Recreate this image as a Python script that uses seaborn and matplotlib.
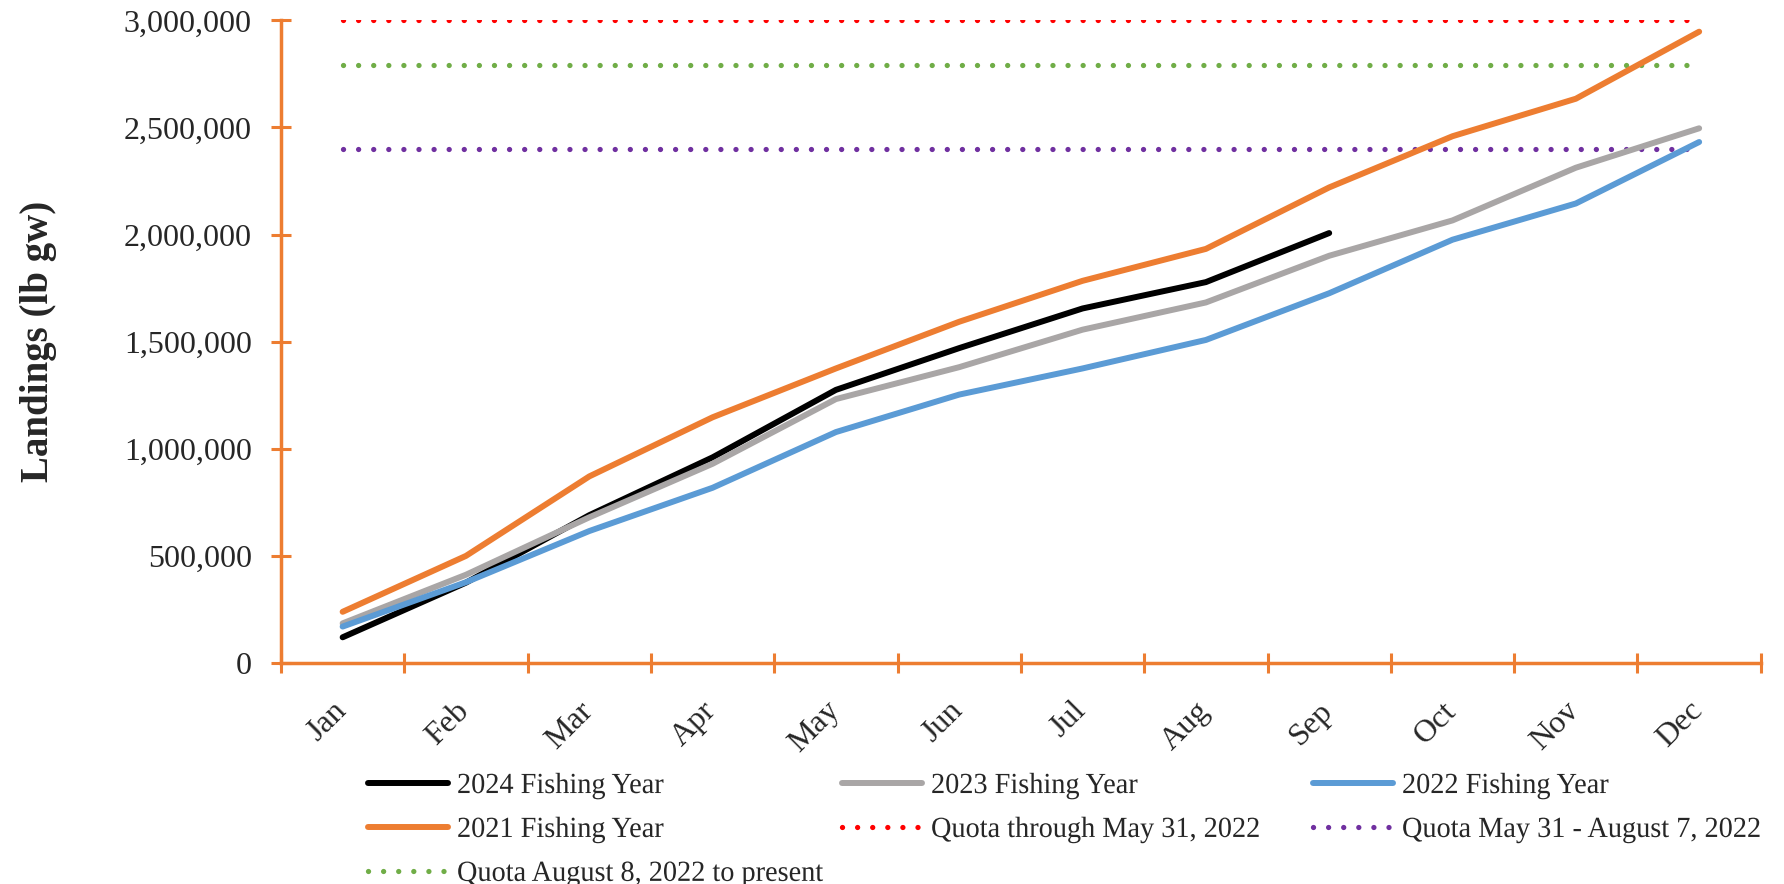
import numpy as np
import pandas as pd
import matplotlib
matplotlib.use('Agg')
import matplotlib.pyplot as plt
import matplotlib.patheffects as pe
import matplotlib.transforms as mtrans
import seaborn as sns
from matplotlib.ticker import FuncFormatter

# aylar ve seriler
months = ['Jan', 'Feb', 'Mar', 'Apr', 'May', 'Jun', 'Jul', 'Aug', 'Sep', 'Oct', 'Nov', 'Dec']
fy2024 = [120000, 375000, 690000, 960000, 1275000, 1470000, 1655000, 1778000, 2007000, np.nan, np.nan, np.nan]
fy2023 = [185000, 412000, 680000, 930000, 1232000, 1381000, 1556000, 1683000, 1901000, 2066000, 2312000, 2496000]
fy2022 = [170000, 377000, 616000, 818000, 1078000, 1253000, 1375000, 1508000, 1726000, 1976000, 2145000, 2432000]
fy2021 = [239000, 500000, 871000, 1147000, 1375000, 1593000, 1784000, 1933000, 2220000, 2459000, 2634000, 2947000]

quota_through_may = [3000000] * 12
quota_may_aug = [2400000] * 12
quota_aug_present = [2790000] * 12

x = np.arange(len(months))


# lejant yazıları biraz dar görünüyor, yatayda hafif daraltmak için
class Condense(pe.AbstractPathEffect):
    def __init__(self, sx):
        super().__init__()
        self.sx = sx

    def draw_path(self, renderer, gc, tpath, affine, rgbFace=None):
        x0 = affine.get_matrix()[0, 2]
        squeeze = mtrans.Affine2D().translate(-x0, 0).scale(self.sx, 1).translate(x0, 0)
        renderer.draw_path(gc, tpath, affine + squeeze, rgbFace)


sns.set_style('ticks')
plt.rcParams['font.family'] = ['Liberation Serif', 'DejaVu Serif']

fig = plt.figure(figsize=(17.84, 8.84), dpi=100)
ax = fig.add_axes([0.1575, 0.25, 0.8295, 0.727])

orange = '#ED7D31'
lw = 4.3

sns.lineplot(x=x, y=fy2024, ax=ax, color='black', linewidth=lw, label='2024 Fishing Year', legend=False)
sns.lineplot(x=x, y=fy2023, ax=ax, color='#A9A6A6', linewidth=lw, label='2023 Fishing Year', legend=False)
sns.lineplot(x=x, y=fy2022, ax=ax, color='#5B9BD5', linewidth=lw, label='2022 Fishing Year', legend=False)
sns.lineplot(x=x, y=fy2021, ax=ax, color=orange, linewidth=lw, label='2021 Fishing Year', legend=False)

# kota çizgileri (noktalı)
for vals, col, lab in [(quota_through_may, '#FF0000', 'Quota through May 31, 2022'),
                       (quota_may_aug, '#7030A0', 'Quota May 31 - August 7, 2022'),
                       (quota_aug_present, '#70AD47', 'Quota August 8, 2022 to present')]:
    ln, = ax.plot(x, vals, color=col, linewidth=3.8, label=lab, zorder=1)
    ln.set_dashes((0.01, 2.85))
    ln.set_dash_capstyle('round')

ax.set_xlim(-0.5, 11.5)
ax.set_ylim(0, 3000000)
ax.set_yticks(np.arange(0, 3000001, 500000))
ax.yaxis.set_major_formatter(FuncFormatter(lambda v, p: f'{int(v):,}'))

# x ekseni: etiketler ortada, çentikler sınırlarda
ax.set_xticks(x)
ax.set_xticklabels(months, rotation=45, ha='right', rotation_mode='anchor', fontsize=23)
ax.set_xticks(np.arange(-0.5, 12, 1), minor=True)
ax.tick_params(axis='x', which='major', bottom=True, length=0, pad=24)
ax.tick_params(axis='x', which='minor', bottom=True, length=14, width=2.2, color=orange, direction='inout')
ax.tick_params(axis='y', left=True, length=14, width=2.2, color=orange, direction='inout', labelsize=23, pad=14)
# etiketleri biraz sola kaydır (tick_params sonrası, yoksa sıfırlanıyor)
shift = mtrans.ScaledTranslation(-8 / 72, 0, fig.dpi_scale_trans)
for t in ax.get_xticklabels():
    t.set_transform(t.get_transform() + shift)

for s in ['top', 'right']:
    ax.spines[s].set_visible(False)
for s in ['left', 'bottom']:
    ax.spines[s].set_color(orange)
    ax.spines[s].set_linewidth(2.5)

ax.set_xlabel('')
ax.set_ylabel('Landings (lb gw)', fontsize=28, fontweight='bold', labelpad=48)

# lejant - üç sütun, ayrı ayrı yerleştir
h, l = ax.get_legend_handles_labels()
cols = [[0, 3, 6], [1, 4], [2, 5]]
col_x = [0.2063, 0.472, 0.7360]
for idx, cx in zip(cols, col_x):
    leg = fig.legend([h[i] for i in idx], [l[i] for i in idx], loc='upper left',
                     bbox_to_anchor=(cx, 0.126), frameon=False, fontsize=21,
                     handlelength=2.75, handletextpad=0.3, labelspacing=0.6,
                     borderaxespad=0, borderpad=0)
    for t in leg.get_texts():
        t.set_path_effects([Condense(0.97)])

fig.savefig('out.png', dpi=100)
